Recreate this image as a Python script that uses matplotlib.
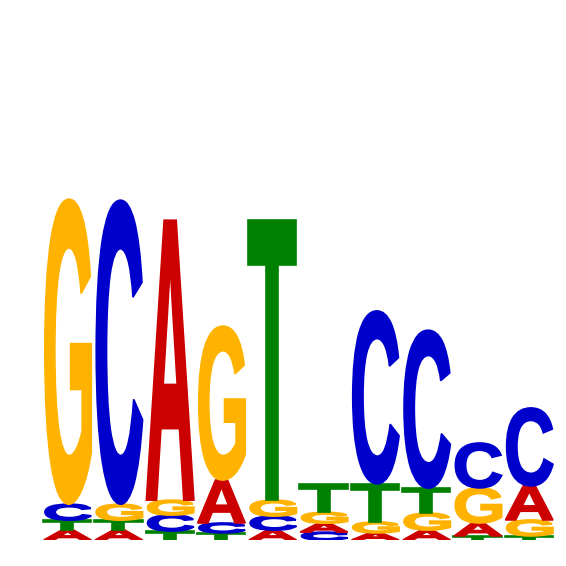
import numpy as np
import matplotlib
matplotlib.use("Agg")
import matplotlib.pyplot as plt
from matplotlib.textpath import TextPath
from matplotlib.patches import PathPatch
from matplotlib.font_manager import FontProperties
from matplotlib.transforms import Affine2D

# letter heights in bits for each position, listed bottom -> top
positions = list(range(1, 11))
stack_letters = [
    ["A", "T", "C", "G"],
    ["A", "T", "G", "C"],
    ["T", "C", "G", "A"],
    ["T", "C", "A", "G"],
    ["A", "C", "G", "T"],
    ["C", "A", "G", "T"],
    ["A", "G", "T", "C"],
    ["A", "G", "T", "C"],
    ["T", "A", "G", "C"],
    ["T", "G", "A", "C"],
]
stack_heights = [
    [0.039, 0.039, 0.063, 1.201],
    [0.039, 0.039, 0.063, 1.197],
    [0.035, 0.063, 0.059, 1.102],
    [0.028, 0.039, 0.169, 0.606],
    [0.039, 0.055, 0.063, 1.102],
    [0.031, 0.035, 0.043, 0.110],
    [0.028, 0.043, 0.150, 0.681],
    [0.039, 0.067, 0.098, 0.622],
    [0.016, 0.051, 0.138, 0.177],
    [0.016, 0.063, 0.134, 0.307],
]
colors = {"A": "#CC0000", "C": "#0000CC", "G": "#FFB300", "T": "#008000"}

fp = FontProperties(family="Liberation Sans", weight="bold")


def draw_letter(ax, letter, x, y, w, h):
    tp = TextPath((0, 0), letter, size=1, prop=fp)
    v = tp.vertices
    x0, y0 = v[:, 0].min(), v[:, 1].min()
    x1, y1 = v[:, 0].max(), v[:, 1].max()
    tr = Affine2D().translate(-x0, -y0).scale(w / (x1 - x0), h / (y1 - y0)).translate(x, y)
    path = tr.transform_path(tp)
    # thin outline in the same colour makes the strokes a little heavier
    ax.add_patch(PathPatch(path, facecolor=colors[letter], edgecolor=colors[letter],
                           lw=1.2, joinstyle="miter"))


fig = plt.figure(figsize=(5.66, 5.66), dpi=100)
ax = fig.add_axes([41 / 566, 26 / 566, 513 / 566, 508 / 566])
ax.set_xlim(0.5, 10.5)
ax.set_ylim(0, 2)
ax.axis("off")

lw = 0.96
for pos, letters, heights in zip(positions, stack_letters, stack_heights):
    base = 0.0
    for let, h in zip(letters, heights):
        draw_letter(ax, let, pos - lw / 2, base, lw, h)
        base += h

fig.savefig("out.png", dpi=100)
